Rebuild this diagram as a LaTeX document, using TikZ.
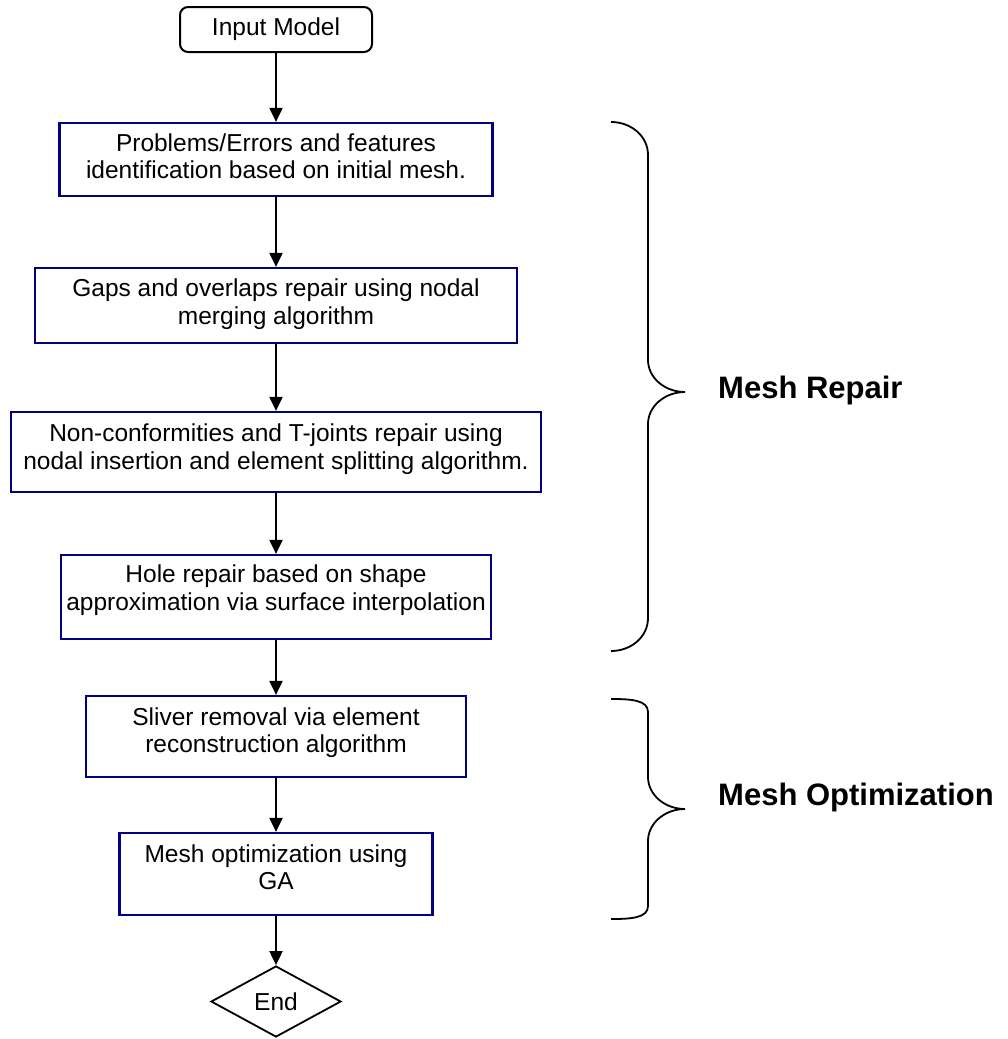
\documentclass[tikz,border=0pt]{standalone}
\usepackage{fontspec}
\setmainfont{Liberation Sans}
\usetikzlibrary{arrows.meta,shapes.geometric}
\definecolor{boxblue}{HTML}{000080}
\begin{document}
\begin{tikzpicture}[x=1pt,y=-1pt,
  stepbox/.style={draw=boxblue,line width=2.2pt,inner sep=0pt,fill=white},
  steptext/.style={align=center,inner sep=0pt,font=\fontsize{24.5}{27.5}\selectfont},
  startbox/.style={draw=black,line width=2pt,rounded corners=8pt,inner sep=0pt,
                   minimum width=192pt,minimum height=45pt,font=\fontsize{24.5}{27.5}\selectfont},
  endbox/.style={draw=black,line width=1.8pt,diamond,inner sep=0pt,
                 minimum width=130pt,minimum height=71pt,font=\fontsize{24.5}{27.5}\selectfont},
  flow/.style={draw=black,line width=2pt,-{Triangle[length=14pt,width=13pt]}},
  brace/.style={draw=black,line width=1.8pt},
  bracelabel/.style={anchor=base west,inner sep=0pt,font=\fontsize{31}{36}\selectfont\bfseries}
]
\useasboundingbox (0,0) rectangle (1007,1039);

% start terminal
\node[startbox] (start) at (276,29.5) {Input Model};

% process steps (frame, then its text)
\node[stepbox,minimum width=433pt,minimum height=73pt] (s1) at (276,159.5) {};
\node[steptext] (t1) at (276,156) {Problems/Errors and features\\identification based on initial mesh.};

\node[stepbox,minimum width=482pt,minimum height=75pt] (s2) at (276,305.5) {};
\node[steptext] (t2) at (276,304) {Gaps and overlaps repair using nodal\\merging algorithm};

\node[stepbox,minimum width=530pt,minimum height=80pt] (s3) at (276,452) {};
\node[steptext] (t3) at (276,449) {Non-conformities and T-joints repair using\\nodal insertion and element splitting algorithm.};

\node[stepbox,minimum width=430pt,minimum height=84pt] (s4) at (276,597) {};
\node[steptext] (t4) at (276,590) {Hole repair based on shape\\approximation via surface interpolation};

\node[stepbox,minimum width=380pt,minimum height=81pt] (s5) at (276,736.5) {};
\node[steptext] (t5) at (276,732.5) {Sliver removal via element\\reconstruction algorithm};

\node[stepbox,minimum width=313pt,minimum height=82pt] (s6) at (276,874) {};
\node[steptext] (t6) at (276,867) {Mesh optimization using\\GA};

% end terminal
\node[endbox] (finish) at (276,1001.5) {End};

% flow arrows
\draw[flow] (start.south) -- (s1.north);
\draw[flow] (s1.south) -- (s2.north);
\draw[flow] (s2.south) -- (s3.north);
\draw[flow] (s3.south) -- (s4.north);
\draw[flow] (s4.south) -- (s5.north);
\draw[flow] (s5.south) -- (s6.north);
\draw[flow] (s6.south) -- (finish.north);

% brace over the repair steps
\draw[brace] (611,122) .. controls (631,122) and (648,136) .. (648,155)
  -- (648,360) .. controls (648,377.6) and (664.6,392) .. (685,392)
  .. controls (664.6,392) and (648,406.4) .. (648,424)
  -- (648,618) .. controls (648,637) and (631,651) .. (611,651);
\node[bracelabel] (repair) at (718,398.3) {Mesh Repair};

% brace over the optimization steps
\draw[brace] (611,699) .. controls (631,699) and (648,700) .. (648,712)
  -- (648,777) .. controls (648,794.6) and (664.6,809) .. (685,809)
  .. controls (664.6,809) and (648,823.4) .. (648,841)
  -- (648,906) .. controls (648,918) and (631,919) .. (611,919);
\node[bracelabel] (optim) at (718,805.7) {Mesh Optimization};
\end{tikzpicture}
\end{document}
